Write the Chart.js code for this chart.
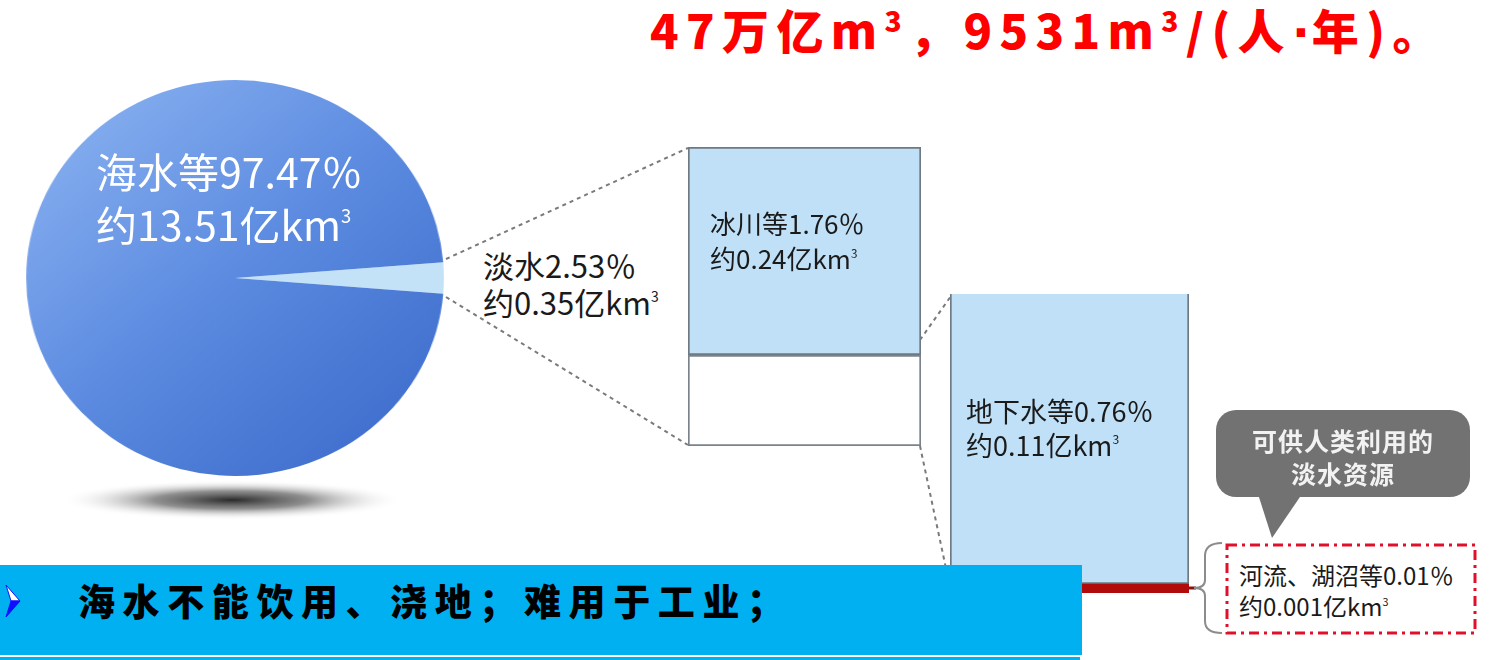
<!DOCTYPE html>
<html lang="zh">
<head>
<meta charset="utf-8">
<script src="https://cdn.jsdelivr.net/npm/chart.js@4"></script>
<style>
  html, body { margin: 0; padding: 0; background: #ffffff; }
  body { width: 1511px; height: 660px; position: relative; overflow: hidden;
         font-family: "Noto Sans CJK SC", "Noto Sans", sans-serif; }
  .abs { position: absolute; }
  .t { position: absolute; white-space: nowrap; line-height: 1; z-index: 5; }
  #deco { position: absolute; left: 0; top: 0; z-index: 1; }
  #pieWrap { position: absolute; left: 35px; top: 78px; width: 400px; height: 400px;
             transform: scaleX(1.055); transform-origin: 50% 50%; z-index: 2; }
  #freshWrap { position: absolute; left: 688px; top: 147px; width: 233px; height: 299px; z-index: 2; }
  #groundWrap { position: absolute; left: 950px; top: 294px; width: 239px; height: 299px; z-index: 2; }
  #band { position: absolute; left: 0; top: 565px; width: 1082px; height: 90px; background: #00b0f0; z-index: 8; }
  #bandLine { position: absolute; left: 0; top: 657px; width: 1080px; height: 3px; background: #00b0f0; z-index: 8; }
  sup { font-size: 0.45em; vertical-align: 0; position: relative; top: -0.95em; }
</style>
</head>
<body>

<!-- title -->
<div class="t" style="left:650px; top:5px; font-size:47px; font-weight:900; color:#ff0000; letter-spacing:7.4px;">47万亿m<sup style="font-size:0.6em; top:-0.6em">3</sup>，9531m<sup style="font-size:0.6em; top:-0.6em">3</sup>/(人<span style="font-family:'DejaVu Sans'; letter-spacing:2px;">·</span>年)。</div>

<!-- decorations (connectors, callout, brace, shadow) -->
<svg id="deco" width="1511" height="660" xmlns="http://www.w3.org/2000/svg">
  <defs>
    <radialGradient id="shadowGrad" cx="50%" cy="50%" r="50%">
      <stop offset="0%" stop-color="#2a2a2a" stop-opacity="1"/>
      <stop offset="45%" stop-color="#6a6a6a" stop-opacity="0.75"/>
      <stop offset="100%" stop-color="#ffffff" stop-opacity="0"/>
    </radialGradient>
  </defs>
  <ellipse cx="232" cy="500" rx="172" ry="20" fill="url(#shadowGrad)"/>
  <g stroke="#7a7a7a" stroke-width="2" stroke-dasharray="4 4" fill="none">
    <line x1="446" y1="259" x2="688" y2="148"/>
    <line x1="446" y1="297" x2="688" y2="445"/>
    <line x1="920" y1="340" x2="951" y2="296"/>
    <line x1="920" y1="446" x2="951" y2="592"/>
  </g>
  <!-- callout bubble -->
  <rect x="1216" y="410" width="254" height="87" rx="20" ry="20" fill="#727272"/>
  <polygon points="1258,494 1302,494 1272,538" fill="#727272"/>
  <!-- curly brace -->
  <line x1="1188" y1="588" x2="1196" y2="588" stroke="#8a1010" stroke-width="3"/>
  <path d="M1222,543 Q1205,543 1205,556 L1205,580 Q1205,588 1194,588 Q1205,588 1205,596 L1205,621 Q1205,633 1222,633"
        fill="none" stroke="#8c8c8c" stroke-width="2"/>
  <!-- red dash-dot box -->
  <rect x="1227" y="545" width="248" height="88" fill="none" stroke="#e0102a" stroke-width="3"
        stroke-dasharray="10 5 3 5"/>
</svg>

<div id="pieWrap"><canvas id="pie" width="400" height="400"></canvas></div>
<div id="freshWrap"><canvas id="fresh" width="233" height="299"></canvas></div>
<div id="groundWrap"><canvas id="ground" width="239" height="299"></canvas></div>

<!-- labels -->
<div class="t" style="left:96px; top:150px; font-size:41px; color:#ffffff;">海水等97.47％</div>
<div class="t" style="left:96px; top:203px; font-size:41px; color:#ffffff;">约13.51亿km<sup>3</sup></div>

<div class="t" style="left:483px; top:249px; font-size:31px; color:#1a1a1a;">淡水2.53％</div>
<div class="t" style="left:483px; top:286px; font-size:31px; color:#1a1a1a;">约0.35亿km<sup>3</sup></div>

<div class="t" style="left:710px; top:210px; font-size:26px; color:#1a1a1a;">冰川等1.76％</div>
<div class="t" style="left:710px; top:245px; font-size:26px; color:#1a1a1a;">约0.24亿km<sup>3</sup></div>

<div class="t" style="left:966px; top:397px; font-size:27px; color:#1a1a1a;">地下水等0.76％</div>
<div class="t" style="left:966px; top:431px; font-size:27px; color:#1a1a1a;">约0.11亿km<sup>3</sup></div>

<div class="t" style="left:1216px; width:254px; text-align:center; top:428px; font-size:25px; font-weight:700; color:#f2f2f2; letter-spacing:1px;">可供人类利用的</div>
<div class="t" style="left:1216px; width:254px; text-align:center; top:461px; font-size:25px; font-weight:700; color:#f2f2f2; letter-spacing:1px;">淡水资源</div>

<div class="t" style="left:1239px; top:563px; font-size:24px; color:#1a1a1a;">河流、湖沼等0.01％</div>
<div class="t" style="left:1239px; top:594px; font-size:24px; color:#1a1a1a;">约0.001亿km<sup>3</sup></div>

<div id="band"></div>
<div id="bandLine"></div>
<svg class="abs" style="left:0; top:565px; z-index:9;" width="40" height="90" xmlns="http://www.w3.org/2000/svg">
  <polygon points="6,20 20,36 11,36" fill="#ffffff" stroke="#1010ff" stroke-width="1"/>
  <polygon points="11,36 20,36 6,52" fill="#1010ff" stroke="#1010ff" stroke-width="1"/>
</svg>
<div class="t" style="left:78px; top:582px; font-size:37px; font-weight:900; color:#000000; letter-spacing:7.6px; z-index:9;">海水不能饮用、浇地；难用于工业；</div>

<script>
// ---- data ----
const pieLabels = ['淡水', '海水等'];
const pieValues = [2.53, 97.47];            // % of global water

const freshCategories = ['淡水'];
const glacierValues = [1.76];               // 冰川等 %
const otherFreshValues = [0.77];            // 其余淡水 %

const groundCategories = ['地下水及地表水'];
const groundwaterValues = [0.76];           // 地下水等 %
const riverValues = [0.01];                 // 河流、湖沼等 %

Chart.defaults.animation = false;
Chart.defaults.plugins.legend.display = false;
Chart.defaults.plugins.tooltip.enabled = false;

// ---- pie ----
new Chart(document.getElementById('pie'), {
  type: 'pie',
  data: {
    labels: pieLabels,
    datasets: [{
      data: pieValues,
      borderWidth: 0,
      backgroundColor: (ctx) => {
        if (ctx.dataIndex === 0) return '#c3e2f8';
        const ch = ctx.chart; const a = ch.chartArea;
        if (!a) return '#5b8be0';
        const g = ch.ctx.createLinearGradient(a.left + 40, a.top + 20, a.right - 40, a.bottom - 20);
        g.addColorStop(0, '#88b0f0');
        g.addColorStop(0.5, '#5b8ae0');
        g.addColorStop(1, '#3d6ccc');
        return g;
      }
    }]
  },
  options: {
    responsive: false,
    rotation: 90 - pieValues[0] * 3.6 / 2,
    layout: { padding: 2 }
  }
});

// ---- fresh water stacked bar ----
new Chart(document.getElementById('fresh'), {
  type: 'bar',
  data: {
    labels: freshCategories,
    datasets: [
      { label: '其余淡水', data: otherFreshValues, backgroundColor: '#ffffff',
        borderColor: '#7a838b', borderWidth: 2, borderSkipped: false },
      { label: '冰川等', data: glacierValues, backgroundColor: '#bfe0f7',
        borderColor: '#6f7982', borderWidth: 2, borderSkipped: false }
    ]
  },
  options: {
    responsive: false,
    layout: { padding: 0 },
    datasets: { bar: { barPercentage: 1, categoryPercentage: 1 } },
    scales: {
      x: { stacked: true, display: false },
      y: { stacked: true, display: false, min: 0, max: pieValues[0] }
    }
  }
});

// ---- groundwater stacked bar ----
new Chart(document.getElementById('ground'), {
  type: 'bar',
  data: {
    labels: groundCategories,
    datasets: [
      { label: '河流、湖沼等', data: riverValues, backgroundColor: '#b10a0a',
        borderWidth: 0, minBarLength: 9 },
      { label: '地下水等', data: groundwaterValues, backgroundColor: '#bfe0f7',
        borderColor: '#6f7982', borderWidth: 2, borderSkipped: false }
    ]
  },
  options: {
    responsive: false,
    layout: { padding: 0 },
    datasets: { bar: { barPercentage: 1, categoryPercentage: 1 } },
    scales: {
      x: { stacked: true, display: false },
      y: { stacked: true, display: false, min: 0, max: riverValues[0] + groundwaterValues[0] }
    }
  }
});
</script>
</body>
</html>
